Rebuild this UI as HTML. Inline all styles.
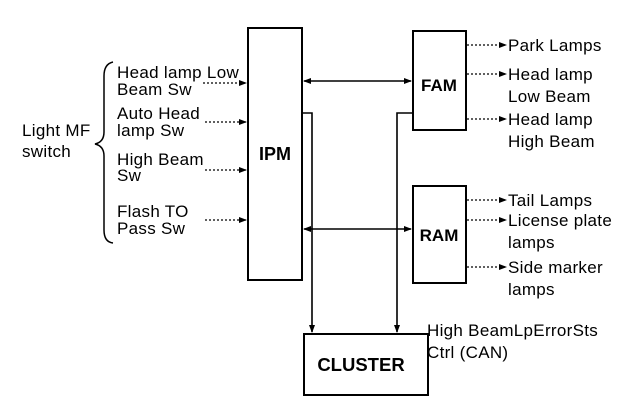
<!DOCTYPE html>
<html><head><meta charset="utf-8"><style>
html,body{margin:0;padding:0;background:#fff;}
svg text{font-family:"Liberation Sans",Arial,sans-serif;font-size:17px;letter-spacing:0.3px;fill:#000;}
.b{font-weight:bold;letter-spacing:0;}
</style></head><body>
<svg width="640" height="410" viewBox="0 0 640 410" xmlns="http://www.w3.org/2000/svg">
<defs>
<marker id="a" markerWidth="8" markerHeight="6" refX="7" refY="3" orient="auto-start-reverse" markerUnits="userSpaceOnUse"><path d="M0,0 L8,3 L0,6 z" fill="#000"/></marker>
</defs>
<g fill="none" stroke="#000" stroke-width="2">
<rect x="248" y="28" width="54" height="252"/>
<rect x="413" y="31" width="53" height="99"/>
<rect x="413" y="186" width="53" height="97"/>
<rect x="304" y="334" width="124" height="61"/>
</g>
<g stroke="#000" stroke-width="1.6" fill="none">
<line x1="304" y1="81" x2="411" y2="81" marker-end="url(#a)" marker-start="url(#a)"/>
<line x1="304" y1="229" x2="411" y2="229" marker-end="url(#a)" marker-start="url(#a)"/>
<polyline points="302,113 312,113 312,332" marker-end="url(#a)"/>
<polyline points="413,113 397,113 397,332" marker-end="url(#a)"/>
</g>
<g stroke="#000" stroke-width="1.2" stroke-dasharray="2,2" fill="none">
<line x1="203" y1="83" x2="246" y2="83" marker-end="url(#a)"/>
<line x1="205" y1="122" x2="246" y2="122" marker-end="url(#a)"/>
<line x1="205" y1="170" x2="246" y2="170" marker-end="url(#a)"/>
<line x1="205" y1="220" x2="246" y2="220" marker-end="url(#a)"/>
<line x1="467" y1="45" x2="506" y2="45" marker-end="url(#a)"/>
<line x1="467" y1="74" x2="506" y2="74" marker-end="url(#a)"/>
<line x1="467" y1="119" x2="506" y2="119" marker-end="url(#a)"/>
<line x1="467" y1="200" x2="506" y2="200" marker-end="url(#a)"/>
<line x1="467" y1="220" x2="506" y2="220" marker-end="url(#a)"/>
<line x1="467" y1="267" x2="506" y2="267" marker-end="url(#a)"/>
</g>
<path d="M113,62 Q104,64 104,76 L104,132 Q104,142 95,144 Q104,146 104,156 L104,230 Q104,242 113,243" fill="none" stroke="#000" stroke-width="1.5"/>
<text x="22" y="136">Light  MF</text>
<text x="22" y="157">switch</text>
<text x="117" y="78">Head lamp Low</text>
<text x="117" y="95">Beam Sw</text>
<text x="117" y="119">Auto Head</text>
<text x="117" y="136">lamp Sw</text>
<text x="117" y="165">High Beam</text>
<text x="117" y="181">Sw</text>
<text x="117" y="217">Flash TO</text>
<text x="117" y="234">Pass Sw</text>
<text x="275" y="160" class="b" text-anchor="middle" style="font-size:18px">IPM</text>
<text x="439" y="91" class="b" text-anchor="middle" style="font-size:17px">FAM</text>
<text x="439" y="241" class="b" text-anchor="middle" style="font-size:17px">RAM</text>
<text x="361" y="371" class="b" text-anchor="middle" style="font-size:18.5px">CLUSTER</text>
<text x="508" y="51">Park Lamps</text>
<text x="508" y="80">Head lamp</text>
<text x="508" y="102">Low Beam</text>
<text x="508" y="125">Head lamp</text>
<text x="508" y="147">High Beam</text>
<text x="508" y="206">Tail Lamps</text>
<text x="508" y="226">License plate</text>
<text x="508" y="248">lamps</text>
<text x="508" y="273">Side marker</text>
<text x="508" y="295">lamps</text>
<text x="427" y="336">High BeamLpErrorSts</text>
<text x="427" y="358">Ctrl (CAN)</text>
</svg>
</body></html>
